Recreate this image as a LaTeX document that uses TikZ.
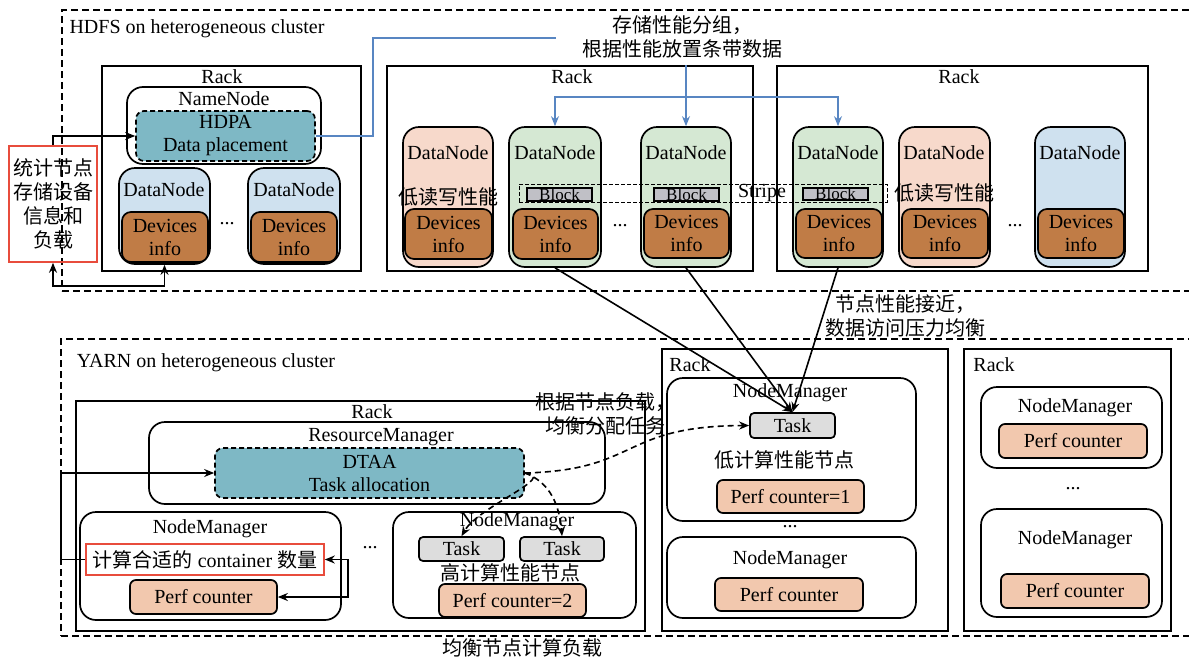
\documentclass[tikz,border=0pt]{standalone}
\usepackage{fontspec}
\setmainfont{Liberation Serif}
\newfontfamily\cjk{Noto Sans CJK SC}
\usepackage{tikz}
\usetikzlibrary{positioning,arrows.meta,fit,calc}
\definecolor{algoteal}{RGB}{126,184,197}
\definecolor{dnblue}{RGB}{207,225,239}
\definecolor{dnpink}{RGB}{247,217,203}
\definecolor{dngreen}{RGB}{213,232,211}
\definecolor{devbrown}{RGB}{192,124,70}
\definecolor{perfsalmon}{RGB}{242,200,174}
\definecolor{taskgrey}{RGB}{221,221,221}
\definecolor{blockgrey}{RGB}{192,192,198}
\definecolor{boxred}{RGB}{232,76,60}
\definecolor{lineblue}{RGB}{88,134,194}
\tikzset{
  cluster/.style={draw,line width=1.7pt,dash pattern=on 7pt off 4pt,inner sep=0pt},
  rack/.style={draw,line width=1.7pt,inner sep=0pt},
  rnd/.style={draw,line width=1.7pt,rounded corners=16pt,inner sep=0pt},
  algo/.style={draw,dash pattern=on 5pt off 3pt,line width=1.7pt,rounded corners=8pt,fill=algoteal,inner sep=0pt},
  dnode/.style={draw,line width=1.7pt,rounded corners=16pt,inner sep=0pt},
  devbox/.style={draw,line width=1.7pt,rounded corners=9pt,fill=devbrown,inner sep=0pt},
  perfbox/.style={draw,line width=1.7pt,rounded corners=6pt,fill=perfsalmon,inner sep=0pt},
  taskbox/.style={draw,line width=1.7pt,rounded corners=4pt,fill=taskgrey,inner sep=0pt},
  blockbox/.style={draw,line width=1.3pt,fill=blockgrey,inner sep=0pt},
  redbox/.style={draw=boxred,line width=1.6pt,inner sep=0pt},
  lab/.style={inner sep=0pt,align=center},
  zh/.style={inner sep=0pt,align=center,font=\fontsize{20}{24}\selectfont\cjk},
  conn/.style={line width=1.6pt},
  dconn/.style={line width=1.6pt,dash pattern=on 6pt off 4pt},
}

\begin{document}
\begin{tikzpicture}[x=1pt,y=-1pt,>={Stealth[length=10pt,width=8pt]},font=\fontsize{20}{23}\selectfont]
  \useasboundingbox (0,0) rectangle (1189,659);
  % HDFS
  \node[cluster,fit={(62,10) (1200,291)}] (hdfs) {};
  \node[lab] at (197,29) {HDFS on heterogeneous cluster};
  \node[rack,fit={(102,66) (361,271)}] (rack1) {};
  \node[lab] at (222,77) {Rack};
  \node[rnd,fit={(127,87) (321,164)}] (nn) {};
  \node[lab] at (224,99) {NameNode};
  \node[algo,fit={(136,111) (315,161)}] (hdpa) {};
  \node[lab] at (hdpa) {HDPA\\Data placement};
  \node[dnode,fill=dnblue,fit={(119,168) (210,264)}] (a1) {};
  \node[dnode,fill=dnblue,fit={(248,168) (340,264)}] (a2) {};
  \node[lab] at (164,190) {DataNode};
  \node[lab] at (294,190) {DataNode};
  \node[devbox,fit={(122,212) (208,262)}] (deva1) {};
  \node[devbox,fit={(251,212) (337,262)}] (deva2) {};
  \node[lab] at (227,224) {...};
  \node[redbox,fit={(9,146) (97,262)}] (stat) {};
  \node[zh] at (stat) {统计节点\\存储设备\\信息和\\负载};

  \node[rack,fit={(387,66) (753,271)}] (rack2) {};
  \node[lab] at (572,77) {Rack};
  \node[dnode,fill=dnpink,fit={(403,127) (493,267)}] (b1) {};
  \node[dnode,fill=dngreen,fit={(509,127) (601,267)}] (b2) {};
  \node[dnode,fill=dngreen,fit={(641,127) (731,267)}] (b3) {};
  \node[rack,fit={(777,66) (1148,271)}] (rack3) {};
  \node[lab] at (959,77) {Rack};
  \node[dnode,fill=dngreen,fit={(793,127) (883,267)}] (c1) {};
  \node[dnode,fill=dnpink,fit={(899,127) (990,267)}] (c2) {};
  \node[dnode,fill=dnblue,fit={(1035,127) (1125,267)}] (c3) {};
  \foreach \x in {448,555,686,838,944,1080} \node[lab] at (\x,153) {DataNode};
  \node[devbox,fit={(405,209) (492,259)}] (devb1) {};
  \node[devbox,fit={(513,209) (598,259)}] (devb2) {};
  \node[devbox,fit={(644,209) (729,258)}] (devb3) {};
  \node[devbox,fit={(796,209) (882,258)}] (devc1) {};
  \node[devbox,fit={(902,209) (988,258)}] (devc2) {};
  \node[devbox,fit={(1038,209) (1124,258)}] (devc3) {};
  \foreach \d in {deva1,deva2,devb1,devb2,devb3,devc1,devc2,devc3}
    \node[lab] at (\d) {Devices\\info};
  \node[lab] at (620,226) {...};
  \node[lab] at (1015,226) {...};
  \node[cluster,line width=1pt,dash pattern=on 4pt off 2pt,fit={(519,184) (887,202)}] (stripe) {};
  \node[blockbox,fit={(527,188) (592,201)}] (blk1) {};
  \node[blockbox,fit={(654,188) (719,201)}] (blk2) {};
  \node[blockbox,fit={(803,188) (868,200)}] (blk3) {};
  \foreach \b in {blk1,blk2,blk3}
    \node[lab,font=\fontsize{17}{17}\selectfont] at (\b) {Block};
  \node[lab] at (762,193) {Stripe};
  \node[zh] at (448,197) {低读写性能};
  \node[zh] at (944,193) {低读写性能};

  \node[zh,inner sep=7pt] (grp) at (682,37) {存储性能分组，\\根据性能放置条带数据};
  \coordinate (bluend) at (556,38);
  \draw[lineblue,line width=1.4pt] (hdpa.east) -- ++(57,0) |- (bluend);
  \draw[lineblue,line width=1.4pt,->] (b3.north |- grp.south) -- (b3.north);
  \draw[lineblue,line width=1.4pt,<->] (b2.north) -- ++(0,-29) -| (c1.north);
  \draw[conn,->] (stat.north) |- (hdpa.west);
  \draw[conn,<->] (stat.south) -- ++(0,23) -| (a1.south);

  % YARN
  \node[cluster,fit={(61,339) (1200,636)}] (yarn) {};
  \node[lab] at (206,363) {YARN on heterogeneous cluster};
  \node[rack,fit={(76,401) (645,631)}] (rack4) {};
  \node[lab] at (372,412) {Rack};
  \node[rnd,fit={(149,422) (605,504)}] (rm) {};
  \node[lab] at (381,437) {ResourceManager};
  \node[algo,fit={(215,448) (524,498)}] (dtaa) {};
  \node[lab] at (dtaa) {DTAA\\Task allocation};
  \node[rnd,fit={(80,512) (341,620)}] (nm1) {};
  \node[lab] at (210,529) {NodeManager};
  \node[redbox,fit={(86,544) (324,575)}] (calc) {};
  \node[lab] at (calc) {{\cjk 计算合适的} container {\cjk 数量}};
  \node[perfbox,fit={(130,580) (277,614)}] (pc1) {};
  \node[lab] at (370,548) {...};
  \node[rnd,fit={(393,512) (636,618)}] (nm2) {};
  \node[lab] at (517,522) {NodeManager};
  \node[taskbox,fit={(419,537) (504,561)}] (tk1) {};
  \node[taskbox,fit={(520,537) (604,561)}] (tk2) {};
  \node[zh] at (510,573) {高计算性能节点};
  \node[perfbox,fit={(439,584) (586,617)}] (pc2) {};

  \node[rack,fit={(662,349) (948,631)}] (rack5) {};
  \node[lab] at (690,365) {Rack};
  \node[rnd,fit={(667,378) (916,521)}] (nm3) {};
  \node[lab] at (790,393) {NodeManager};
  \node[taskbox,fit={(750,413) (835,438)}] (tk) {};
  \node[zh] at (784,460) {低计算性能节点};
  \node[perfbox,fit={(717,480) (864,513)}] (pc3) {};
  \node[lab] at (790,527) {...};
  \node[rnd,fit={(667,537) (916,618)}] (nm4) {};
  \node[lab] at (790,560) {NodeManager};
  \node[perfbox,fit={(715,578) (863,611)}] (pc4) {};

  \node[rack,fit={(964,349) (1171,631)}] (rack6) {};
  \node[lab] at (994,365) {Rack};
  \node[rnd,fit={(981,387) (1162,468)}] (nm5) {};
  \node[lab] at (1075,408) {NodeManager};
  \node[perfbox,fit={(999,424) (1147,458)}] (pc5) {};
  \node[lab] at (1073,489) {...};
  \node[rnd,fit={(981,509) (1162,617)}] (nm6) {};
  \node[lab] at (1075,540) {NodeManager};
  \node[perfbox,fit={(1001,574) (1149,608)}] (pc6) {};

  \foreach \t in {tk1,tk2,tk} \node[lab] at (\t) {Task};
  \foreach \p in {pc1,pc4,pc5,pc6} \node[lab] at (\p) {Perf counter};
  \node[lab] at (pc2) {Perf counter=2};
  \node[lab] at (pc3) {Perf counter=1};

  \node[zh] at (605,414) {根据节点负载，\\均衡分配任务};
  \node[zh] at (905,316) {节点性能接近，\\数据访问压力均衡};
  \node[zh] at (522,648) {均衡节点计算负载};

  \draw[conn,->] (calc.west) -- ++(-24,0) |- (dtaa.west);
  \draw[conn,<->] (calc.east) -- ++(23,0) |- (pc1.east);
  \draw[dconn,->] (dtaa.east) to[out=-5,in=60] (tk1.north);
  \draw[dconn,->] (dtaa.east) to[out=-20,in=95] (tk2.north);
  \draw[dconn,->] (dtaa.east) .. controls (640,470) and (620,426) .. (tk.west);
  \draw[conn,->] (b2.south) -- (tk.north);
  \draw[conn,->] (b3.south) -- (tk.north);
  \draw[conn,->] (c1.south) -- (tk.north);
\end{tikzpicture}
\end{document}
